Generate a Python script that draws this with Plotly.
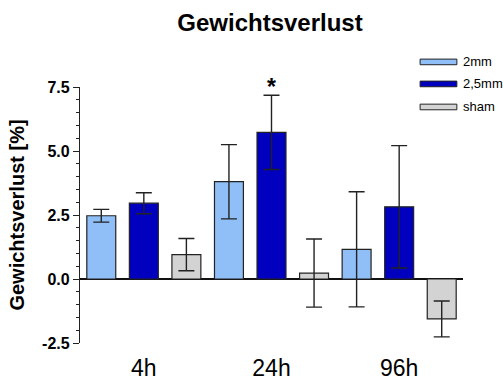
import plotly.graph_objects as go

categories = ["4h", "24h", "96h"]
series_names = ["2mm", "2,5mm", "sham"]
values_2mm = [2.47, 3.80, 1.16]
errors_2mm = [0.25, 1.45, 2.25]
values_25mm = [2.96, 5.73, 2.82]
errors_25mm = [0.41, 1.45, 2.39]
values_sham = [0.95, 0.23, -1.56]
errors_sham = [0.63, 1.33, 0.70]
colors = ["#90BFF7", "#0000BE", "#D3D3D3"]
y_ticks = [-2.5, 0.0, 2.5, 5.0, 7.5]
y_ticklabels = ["-2.5", "0.0", "2.5", "5.0", "7.5"]

values = [values_2mm, values_25mm, values_sham]
errors = [errors_2mm, errors_25mm, errors_sham]

FONT = "Liberation Sans, Arial, sans-serif"

fig = go.Figure()
for name, vals, errs, col in zip(series_names, values, errors, colors):
    fig.add_trace(go.Bar(
        x=categories, y=vals, name=name,
        marker=dict(color=col, line=dict(color="#222222", width=1.2)),
        error_y=dict(type="data", array=errs, visible=True,
                     color="#222222", thickness=1.4, width=8),
        showlegend=False,
    ))

# significance star over 2,5mm at 24h
fig.add_annotation(x=categories[1], y=values_25mm[1] + errors_25mm[1],
                   xref="x", yref="y", text="<b>*</b>", showarrow=False,
                   yanchor="bottom", yshift=-7,
                   font=dict(size=23, color="black", family=FONT))

# custom legend
leg_y = [1.098, 1.012, 0.922]
for name, col, yy in zip(series_names, colors, leg_y):
    fig.add_shape(type="rect", xref="paper", yref="paper",
                  x0=0.888, x1=0.984, y0=yy - 0.011, y1=yy + 0.011,
                  fillcolor=col, line=dict(color="#222222", width=1))
    fig.add_annotation(x=0.994, y=yy, xref="paper", yref="paper", text=name,
                       showarrow=False, xanchor="left", yanchor="middle",
                       font=dict(size=13, color="black", family=FONT))

fig.update_layout(
    width=503, height=381,
    margin=dict(l=80, r=40, t=87, b=38, autoexpand=False),
    paper_bgcolor="white", plot_bgcolor="white",
    barmode="group", bargap=0.0, bargroupgap=0.32,
    title=dict(text="<b>Gewichtsverlust</b>", x=270 / 503, xanchor="center",
               y=1 - 23 / 381, yanchor="middle",
               font=dict(size=24, color="black", family=FONT)),
    font=dict(family=FONT, color="black"),
)
fig.update_xaxes(range=[-0.5, 2.5], showline=False, showgrid=False, zeroline=False,
                 automargin=False, ticks="outside", ticklen=4, tickcolor="rgba(0,0,0,0)",
                 tickfont=dict(size=23, color="black"))
fig.update_yaxes(range=[-2.5, 7.5], tickvals=y_ticks, ticktext=["<b>%s</b>" % t for t in y_ticklabels],
                 automargin=False,
                 showline=True, linecolor="#222222", linewidth=1.2,
                 ticks="outside", ticklen=6, tickwidth=1.2, tickcolor="#222222",
                 minor=dict(dtick=0.5, ticks="outside", ticklen=3, tickwidth=1.2, tickcolor="#222222"),
                 showgrid=False, zeroline=True, zerolinecolor="#111111", zerolinewidth=1.5,
                 tickfont=dict(size=16, color="black"),
                 title=dict(text="<b>Gewichtsverlust [%]</b>", font=dict(size=20, color="black"), standoff=12))

fig.write_html("out.html", config={"displayModeBar": False},
               post_script="document.body.style.margin='0';document.body.style.overflow='hidden';")
